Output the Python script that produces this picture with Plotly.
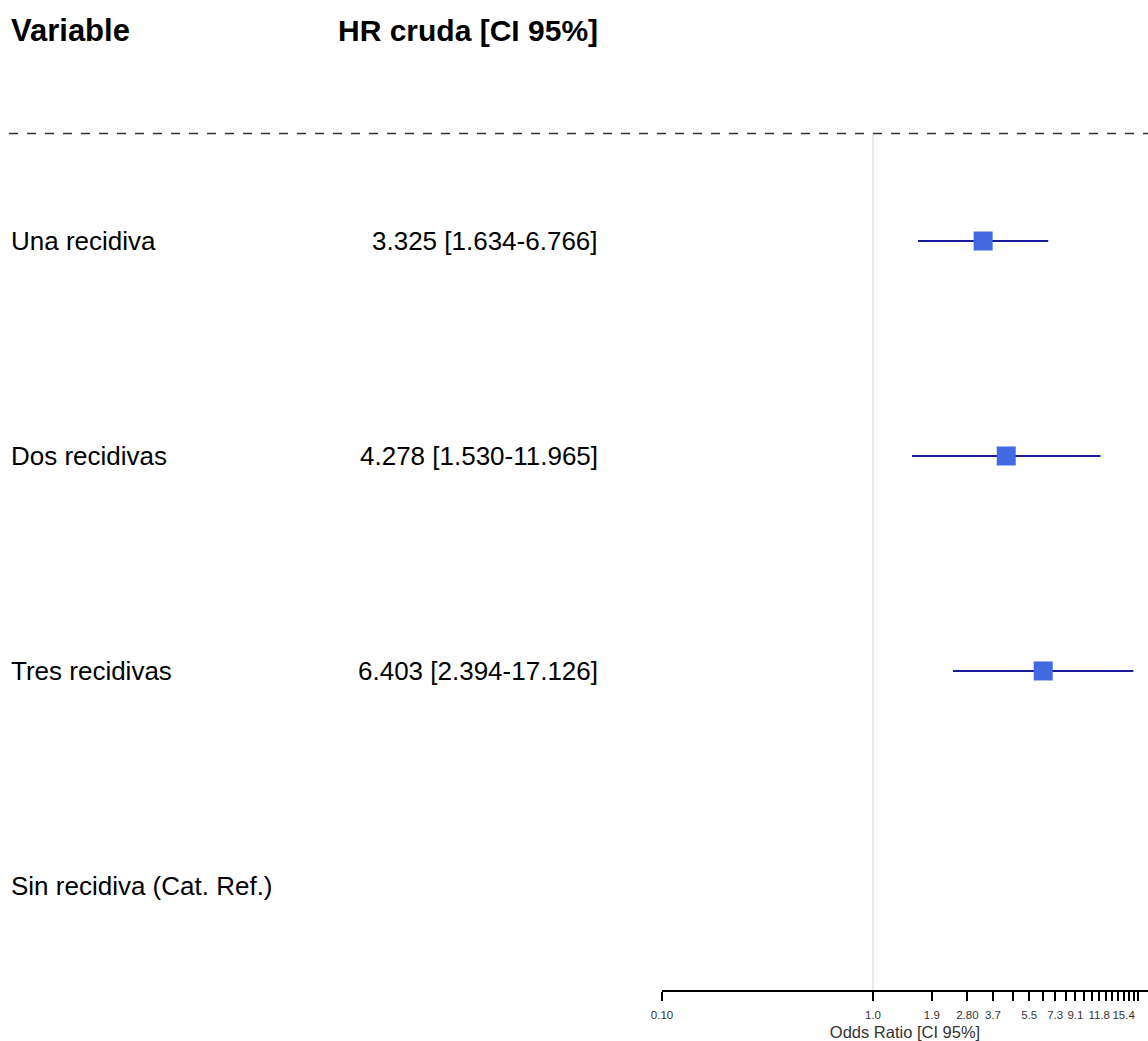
import plotly.graph_objects as go

# Forest plot data
variables = ["Una recidiva", "Dos recidivas", "Tres recidivas", "Sin recidiva (Cat. Ref.)"]
hr = [3.325, 4.278, 6.403, None]
ci_low = [1.634, 1.530, 2.394, None]
ci_high = [6.766, 11.965, 17.126, None]

header_var = "Variable"
header_hr = "HR cruda [CI 95%]"
axis_title = "Odds Ratio [CI 95%]"

tick_values = [0.1] + [round(1.0 + 0.9 * k, 1) for k in range(20)]
tick_labels_shown = {0.1: "0.10", 1.0: "1.0", 1.9: "1.9", 2.8: "2.80", 3.7: "3.7",
                     5.5: "5.5", 7.3: "7.3", 9.1: "9.1", 11.8: "11.8", 15.4: "15.4"}
tick_text = [tick_labels_shown.get(v, "") for v in tick_values]

FONT = "Liberation Sans, Arial, sans-serif"
W = 1148
n = len(variables)
rows = [n - i for i in range(n)]  # top row gets the largest y
y_header = n + 0.98
y_sep = n + 0.5
y_bottom = 0.516
y_top = n + 1.121

fig = go.Figure()

# reference line at OR = 1
fig.add_trace(go.Scatter(x=[1, 1], y=[y_bottom, y_sep], mode="lines",
                         line=dict(color="#d3d3d3", width=1), hoverinfo="skip"))

# confidence intervals
ci_x, ci_y = [], []
for lo, hi, y in zip(ci_low, ci_high, rows):
    if lo is None:
        continue
    ci_x += [lo, hi, None]
    ci_y += [y, y, None]
fig.add_trace(go.Scatter(x=ci_x, y=ci_y, mode="lines",
                         line=dict(color="#1a1a9c", width=2), hoverinfo="skip"))

# point estimates
px = [h for h in hr if h is not None]
py = [y for h, y in zip(hr, rows) if h is not None]
fig.add_trace(go.Scatter(x=px, y=py, mode="markers",
                         marker=dict(symbol="square", size=19, color="#4169e1",
                                     line=dict(width=0))))

annotations = []
annotations.append(dict(x=9 / W, y=y_header, xref="paper", yref="y", text="<b>" + header_var + "</b>",
                        xanchor="left", yanchor="middle", showarrow=False,
                        font=dict(family=FONT, size=31, color="black")))
annotations.append(dict(x=600 / W, y=y_header, xref="paper", yref="y", text="<b>" + header_hr + "</b>",
                        xanchor="right", yanchor="middle", showarrow=False,
                        font=dict(family=FONT, size=30, color="black")))
for name, h, lo, hi, y in zip(variables, hr, ci_low, ci_high, rows):
    annotations.append(dict(x=9 / W, y=y, xref="paper", yref="y", text=name,
                            xanchor="left", yanchor="middle", showarrow=False,
                            font=dict(family=FONT, size=26, color="black")))
    if h is not None:
        annotations.append(dict(x=600 / W, y=y, xref="paper", yref="y",
                                text=f"{h:.3f} [{lo:.3f}-{hi:.3f}]",
                                xanchor="right", yanchor="middle", showarrow=False,
                                font=dict(family=FONT, size=26, color="black")))

fig.update_layout(
    width=W, height=1041,
    margin=dict(l=0, r=0, t=0, b=51, autoexpand=False),
    paper_bgcolor="white", plot_bgcolor="white",
    showlegend=False,
    annotations=annotations,
    shapes=[dict(type="line", xref="paper", yref="y", x0=9 / W, x1=1, y0=y_sep, y1=y_sep,
                 line=dict(color="#333333", width=1.5, dash="dash"))],
    xaxis=dict(type="log", range=[-1, 1.303], domain=[662 / W, 1],
               showgrid=False, zeroline=False, showline=True, linecolor="black", linewidth=1.5,
               ticks="outside", ticklen=9, tickwidth=1.5, tickcolor="black",
               tickvals=tick_values, ticktext=tick_text, ticklabelstandoff=4, tickangle=0,
               tickfont=dict(family=FONT, size=11.5, color="#333333"),
               title=dict(text=axis_title, standoff=8,
                          font=dict(family=FONT, size=16.5, color="#333333"))),
    yaxis=dict(range=[y_bottom, y_top], visible=False, showgrid=False, zeroline=False),
)

fig.write_html("out.html")
